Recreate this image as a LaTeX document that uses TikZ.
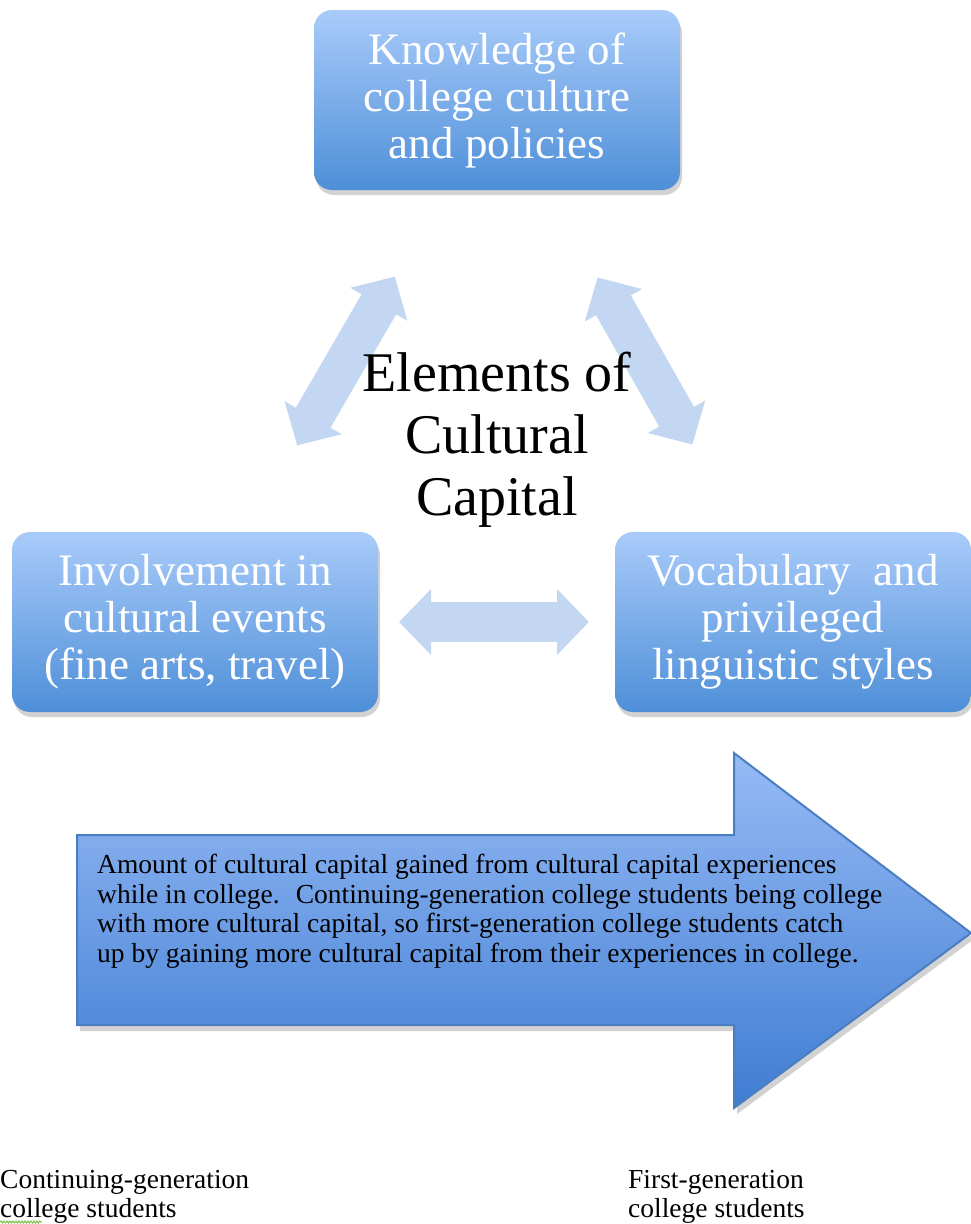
\documentclass[tikz,border=0pt]{standalone}
\usepackage{fontspec}
\setmainfont{Liberation Serif}
\usetikzlibrary{positioning,shadows,arrows.meta,decorations.pathmorphing}
\definecolor{boxtop}{HTML}{A9CBFA}
\definecolor{boxbot}{HTML}{4E8FD8}
\definecolor{linkblue}{HTML}{C3D7F2}
\definecolor{bigtop}{HTML}{96BBF6}
\definecolor{bigbot}{HTML}{3F7CD2}
\definecolor{bigline}{HTML}{4A7EC0}
\definecolor{spellgreen}{HTML}{7DBF45}
\tikzset{
  element/.style={rounded corners=18pt, top color=boxtop, bottom color=boxbot,
    minimum width=366pt, minimum height=180pt, text=white, align=center,
    font=\fontsize{45}{47}\selectfont, inner sep=0pt,
    drop shadow={shadow xshift=2pt, shadow yshift=-5pt, opacity=.35}},
  link/.style={line width=40pt, draw=linkblue,
    {Triangle[length=32pt,width=64pt]}-{Triangle[length=32pt,width=64pt]},
    shorten <=204pt, shorten >=204pt},
  bigarrow/.style={top color=bigtop, bottom color=bigbot, draw=bigline, line width=2pt,
    drop shadow={shadow xshift=3pt, shadow yshift=-6pt, opacity=.35}},
  note/.style={align=left, inner sep=0pt, font=\fontsize{27.5}{29.5}\selectfont},
  spellmark/.style={draw=spellgreen, line width=1pt,
    decorate, decoration={snake, amplitude=1pt, segment length=3pt}}
}
\begin{document}
\begin{tikzpicture}[x=1pt, y=-1pt]
  \path[fill=white, use as bounding box] (0,0) rectangle (971,1224);

  % Nodes
  \node[element] (know) at (497,100) {Knowledge of\\college culture\\and policies};
  \node[element] (involve) at (195,622) {Involvement in\\cultural events\\(fine arts, travel)};
  \node[element, minimum width=356pt] (vocab) at (793,622) {Vocabulary~ and\\privileged\\linguistic styles};

  % Edges
  \draw[link] (know.center) -- (involve.center);
  \draw[link] (know.center) -- (vocab.center);
  \draw[link] (involve.center) -- (vocab.center);

  % Centre title, over the edges
  \node[align=center, inner sep=0pt, font=\fontsize{56}{62}\selectfont] (elements) at (497,440)
    {Elements of\\Cultural\\Capital};

  % Gain arrow
  \draw[bigarrow] (77,835) -- (734,835) -- (734,753) -- (971,933) -- (734,1108)
    -- (734,1025) -- (77,1025) -- cycle;
  \node[note, anchor=north west] (gain) at (97,854)
    {Amount of cultural capital gained from cultural capital experiences\\
     while in college.~ Continuing-generation college students being college\\
     with more cultural capital, so first-generation college students catch\\
     up by gaining more cultural capital from their experiences in college.};

  % Labels
  \node[note, anchor=north west] (lblcont) at (0,1170) {Continuing-generation\\college students};
  \node[note, anchor=north west] (lblfirst) at (628,1170) {First-generation\\college students};
  \draw[spellmark] ([yshift=2pt]lblcont.south west) -- ++(42,0);

\end{tikzpicture}
\end{document}
